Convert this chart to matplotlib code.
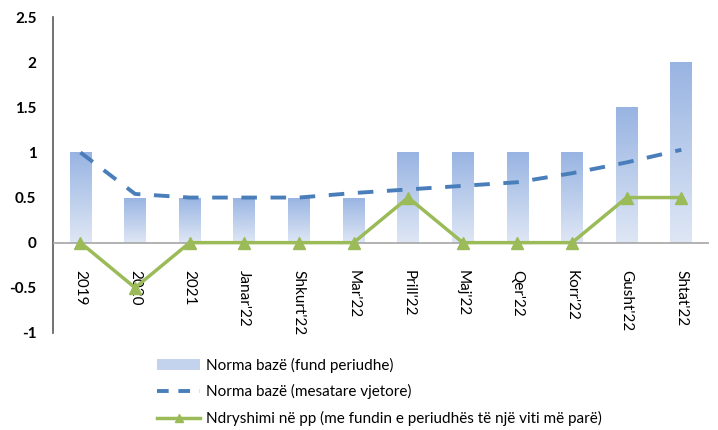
import matplotlib.pyplot as plt
import numpy as np
from matplotlib.patches import Patch
from matplotlib.lines import Line2D
from matplotlib.colors import LinearSegmentedColormap

plt.rcParams['font.family'] = ['Lato', 'DejaVu Sans']

# Data
labels = ['2019', '2020', '2021', "Janar'22", "Shkurt'22", "Mar'22",
          "Prill'22", "Maj'22", "Qer'22", "Korr'22", "Gusht'22", "Shtat'22"]
norma_fund = [1, 0.5, 0.5, 0.5, 0.5, 0.5, 1, 1, 1, 1, 1.5, 2]
norma_mesatare = [1.0, 0.54, 0.5, 0.5, 0.5, 0.55, 0.59, 0.63, 0.67, 0.77, 0.89, 1.03]
ndryshimi = [0, -0.5, 0, 0, 0, 0, 0.5, 0, 0, 0, 0.5, 0.5]

names = ['Norma bazë (fund periudhe)',
         'Norma bazë (mesatare vjetore)',
         'Ndryshimi në pp (me fundin e periudhës të një viti më parë)']

fig = plt.figure(figsize=(7.18, 4.3), dpi=100)
ax = fig.add_axes([0.074, 0.226, 0.913, 0.734])

x = np.arange(len(labels))
cmap = LinearSegmentedColormap.from_list('grad', ['#dfe7f5', '#98b4e2'])
grad = np.linspace(0, 1, 256).reshape(-1, 1)

bars = ax.bar(x, norma_fund, width=0.4, color='none', edgecolor='none', zorder=2)
for b in bars:
    x0, w, h = b.get_x(), b.get_width(), b.get_height()
    im = ax.imshow(grad, cmap=cmap, origin='lower', aspect='auto',
                   extent=[x0, x0 + w, 0, h], zorder=2)
    im.set_clip_path(b)

ax.axhline(0, color='#a6a6a6', linewidth=1.2, zorder=3)

ax.plot(x, norma_mesatare, linestyle=(0, (4, 3.5)), color='#4a7ebb', linewidth=2.8,
        zorder=4)
ax.plot(x, ndryshimi, color='#9bbb59', linewidth=2.5, marker='^', markersize=8,
        zorder=5)

for i, lab in enumerate(labels):
    ax.text(i, -0.3, lab, rotation=270, ha='center', va='top', fontsize=11,
            color='#000000')

ax.set_xlim(-0.5, len(labels) - 0.5)
ax.set_ylim(-1, 2.5)
ax.set_xticks([])
ax.set_yticks([-1, -0.5, 0, 0.5, 1, 1.5, 2, 2.5])
ax.set_yticklabels(['-1', '-0.5', '0', '0.5', '1', '1.5', '2', '2.5'],
                   fontweight='bold', fontsize=11)
ax.tick_params(axis='y', length=0, pad=12)
for s in ['top', 'right', 'bottom']:
    ax.spines[s].set_visible(False)
ax.spines['left'].set_color('#595959')
ax.spines['left'].set_linewidth(1.2)

handles = [Patch(facecolor='#c3d3ee', edgecolor='none'),
           Line2D([], [], linestyle=(0, (3, 2.5)), color='#4a7ebb', linewidth=2.8),
           Line2D([], [], color='#9bbb59', linewidth=2.5, marker='^', markersize=6)]
fig.legend(handles, names, loc='upper left', bbox_to_anchor=(0.2, 0.2),
           frameon=False, fontsize=11, handlelength=2.8, labelspacing=0.75,
           handletextpad=0.4)

fig.savefig('out.png', dpi=100)
